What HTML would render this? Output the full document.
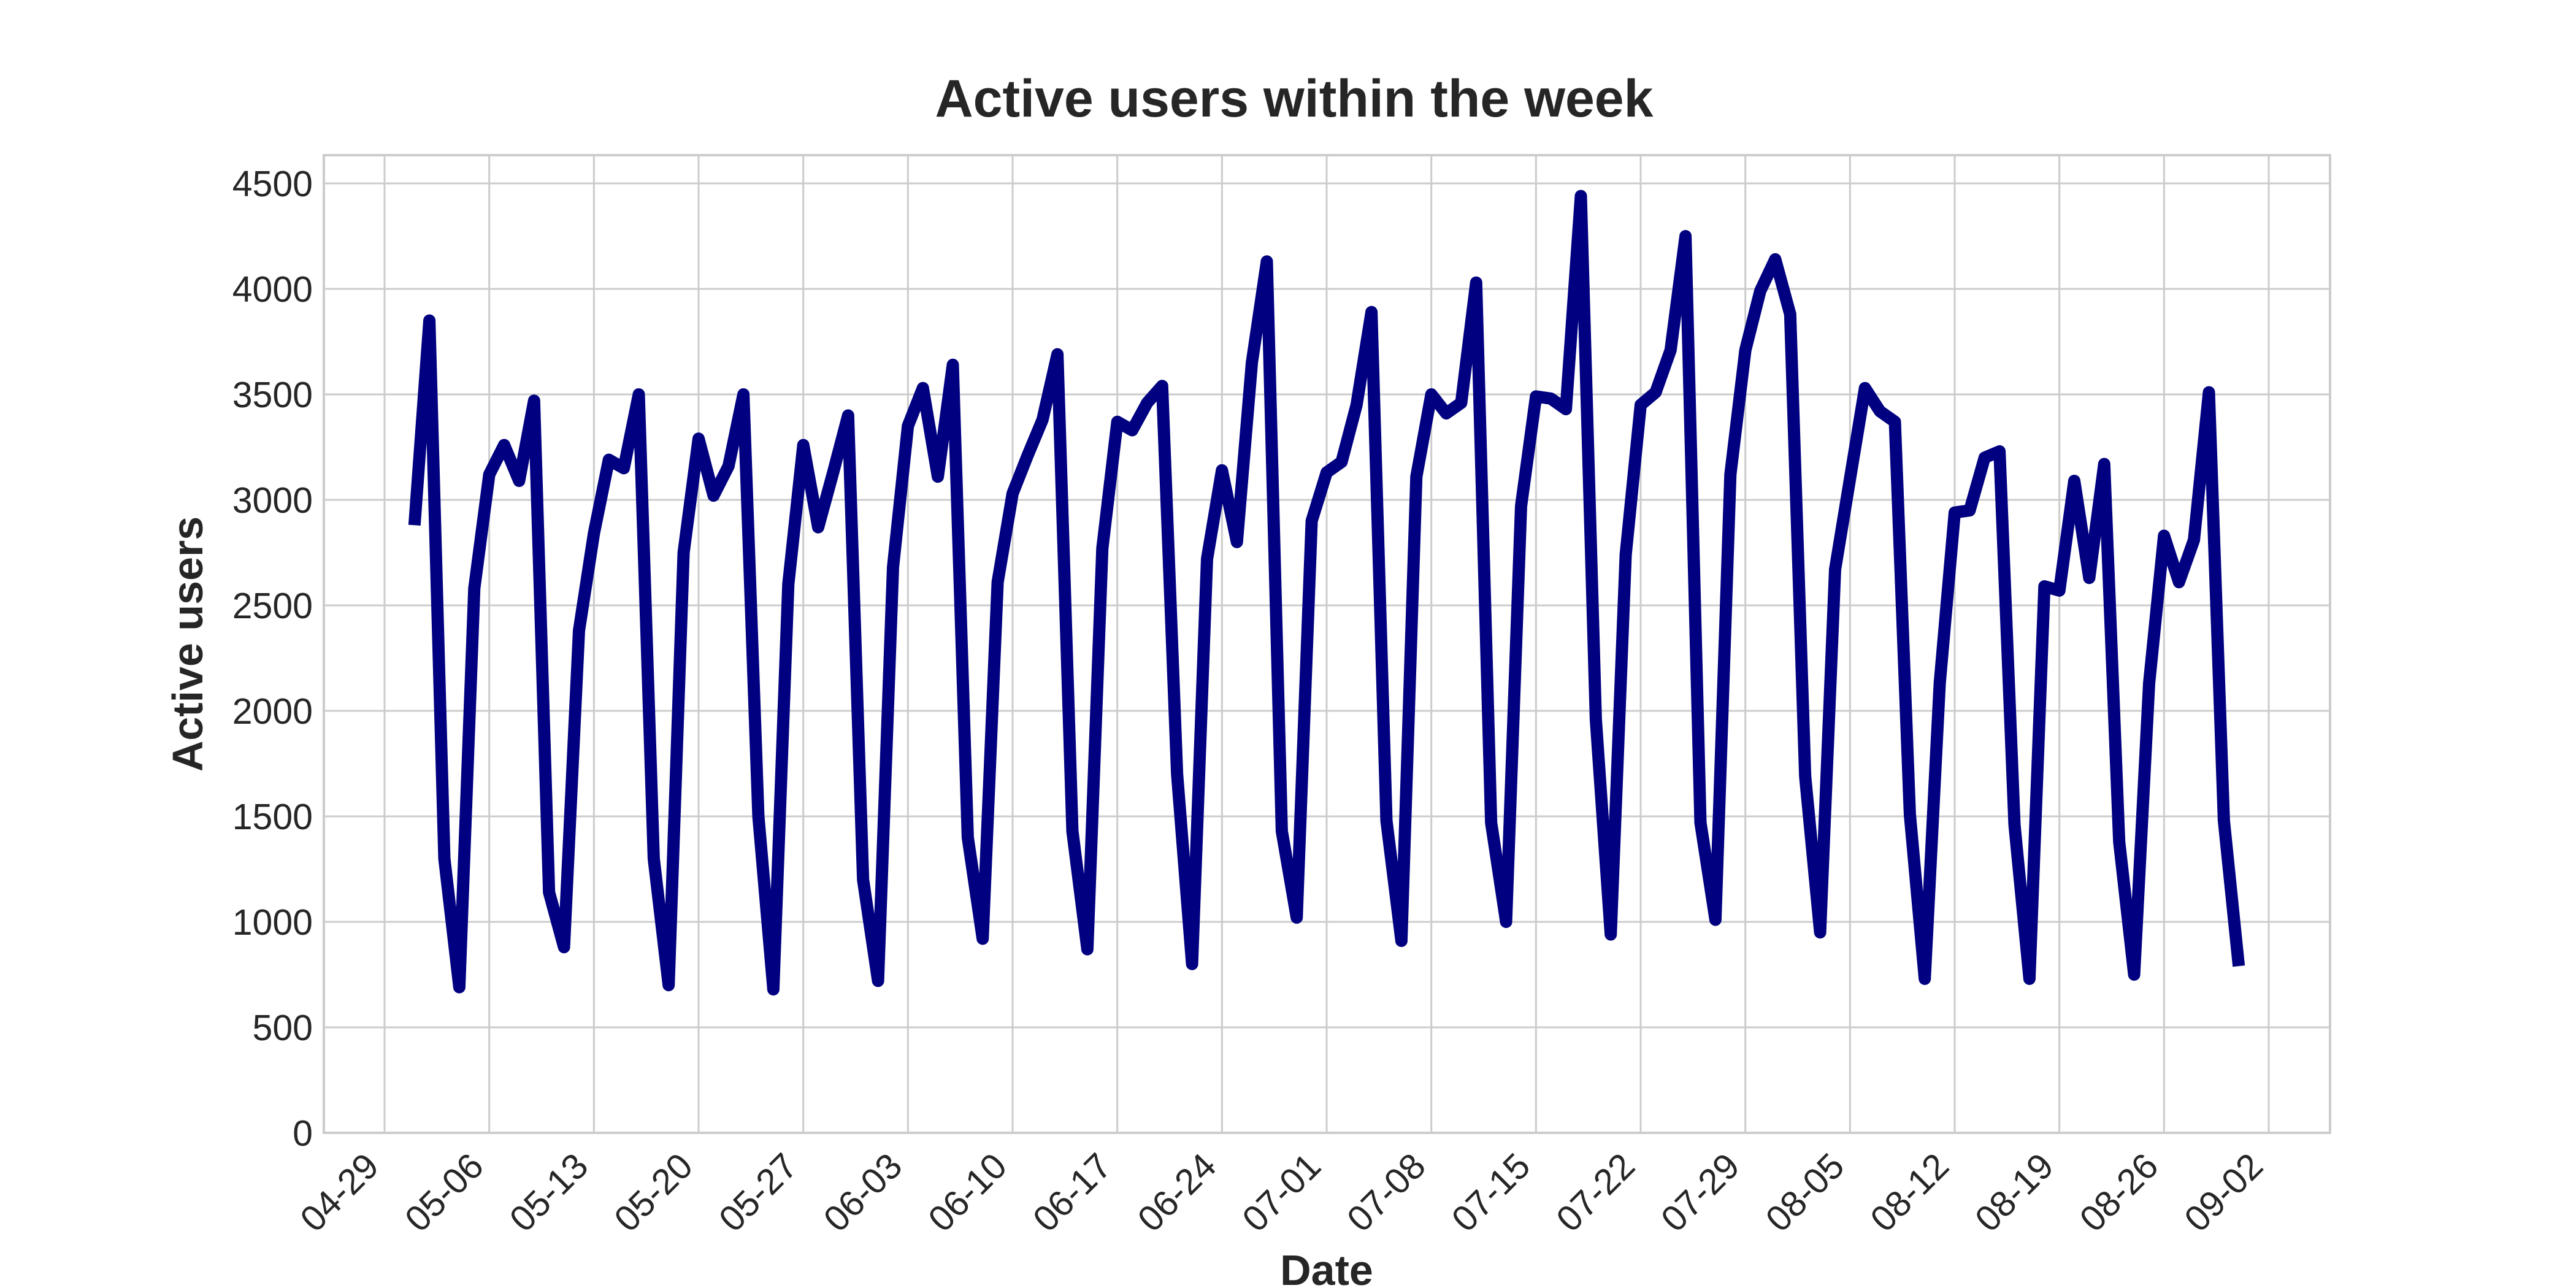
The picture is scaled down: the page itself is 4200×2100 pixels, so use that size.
<!DOCTYPE html>
<html><head><meta charset="utf-8"><style>
html,body{margin:0;padding:0;background:#fff;}
svg{display:block;font-family:"Liberation Sans",Arial,sans-serif;}
</style></head><body>
<svg id="chart" width="4200" height="2100" viewBox="0 0 4200 2100" xmlns="http://www.w3.org/2000/svg">
<rect width="4200" height="2100" fill="#fff"/>
<text x="2110" y="190" text-anchor="middle" font-size="86" font-weight="bold" fill="#262626">Active users within the week</text>
<g id="grid"></g>
<rect x="528" y="253" width="3271" height="1594" fill="none" stroke="#cccccc" stroke-width="4"/>
<g id="xticks"></g><g id="yticks"></g>
<text x="2163" y="2095" text-anchor="middle" font-size="70" font-weight="bold" fill="#262626">Date</text>
<text transform="translate(330,1050) rotate(-90)" text-anchor="middle" font-size="70" font-weight="bold" fill="#262626">Active users</text>
<g id="series"></g>
</svg>
<script>
const startDay = 2; // days after 04-29 (05-01)
const values = [2880,3850,1300,690,2580,3120,3260,3090,3470,1140,880,2380,2840,3190,3150,3500,1300,700,2750,3290,3020,3160,3500,1500,680,2600,3260,2870,3130,3400,1200,720,2680,3350,3530,3110,3640,1400,920,2610,3030,3210,3380,3690,1430,870,2770,3370,3330,3460,3540,1700,800,2720,3140,2800,3650,4130,1430,1020,2900,3130,3180,3450,3890,1480,910,3110,3500,3410,3460,4030,1470,1000,2970,3490,3480,3430,4440,1960,940,2740,3450,3510,3710,4250,1470,1010,3120,3710,3990,4140,3880,1690,950,2670,3100,3530,3420,3370,1510,730,2130,2940,2950,3200,3230,1460,730,2590,2570,3090,2630,3170,1380,750,2130,2830,2610,2810,3510,1480,790];
const xTickLabels = ["04-29","05-06","05-13","05-20","05-27","06-03","06-10","06-17","06-24","07-01","07-08","07-15","07-22","07-29","08-05","08-12","08-19","08-26","09-02"];
const yTickValues = [0,500,1000,1500,2000,2500,3000,3500,4000,4500];

const NS="http://www.w3.org/2000/svg";
const x0=627, pxPerDay=(3699-627)/126;
function xScale(day){return x0+day*pxPerDay;}
function yScale(v){return 1847-(1847-299)*v/4500;}
function mk(tag,attrs,parent){const e=document.createElementNS(NS,tag);for(const k in attrs)e.setAttribute(k,attrs[k]);parent.appendChild(e);return e;}
const grid=document.getElementById('grid'),xt=document.getElementById('xticks'),yt=document.getElementById('yticks'),ser=document.getElementById('series');
xTickLabels.forEach((lab,i)=>{
  const x=xScale(i*7);
  const g=mk('line',{x1:x,x2:x,y1:253,y2:1847,stroke:'#cccccc','stroke-width':3},grid);
  
  
  const t=mk('text',{transform:`translate(${x-36},${1875}) rotate(-45)`,'text-anchor':'end','font-size':59,fill:'#262626','dominant-baseline':'hanging'},xt);
  t.textContent=lab;
  
  
});
yTickValues.forEach(v=>{
  const y=yScale(v);
  const g=mk('line',{x1:528,x2:3799,y1:y,y2:y,stroke:'#cccccc','stroke-width':3},grid);
  
  
  const t=mk('text',{x:510,y:y+21,'text-anchor':'end','font-size':59,fill:'#262626'},yt);
  t.textContent=v;
  
  
});
const pts=values.map((v,i)=>xScale(startDay+i).toFixed(1)+','+yScale(v).toFixed(1)).join(' ');
const line=mk('polyline',{points:pts,fill:'none',stroke:'#000080','stroke-width':20,'stroke-linejoin':'round','stroke-linecap':'butt'},ser);


</script>
</body></html>
